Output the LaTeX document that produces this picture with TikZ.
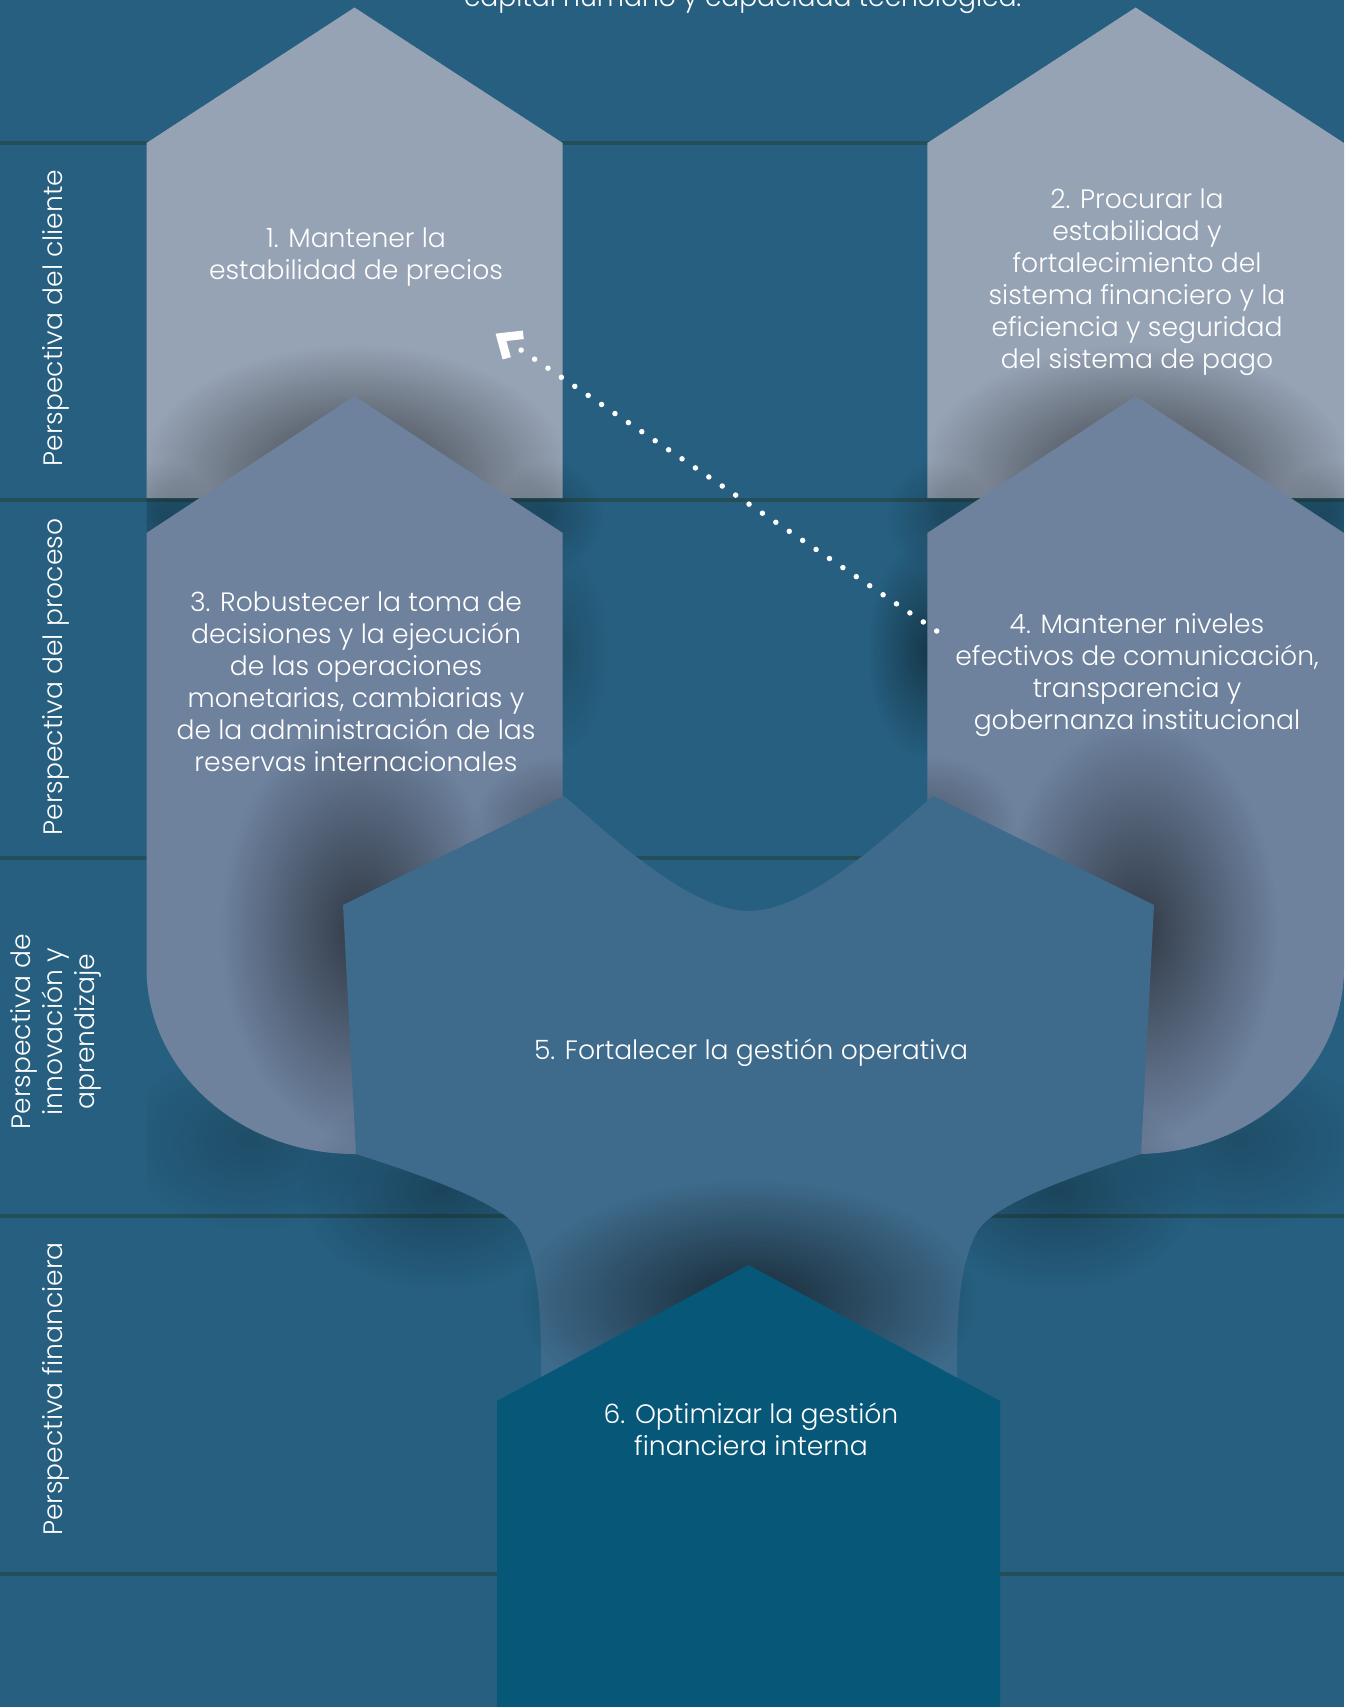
\documentclass[tikz,border=0pt]{standalone}
\usepackage{fontspec}
\IfFontExistsTF{Poppins Light}{\setmainfont{Poppins Light}}{\setmainfont{Poppins}}
\usetikzlibrary{calc,fadings}
\tikzfading[name=shadowfade, inner color=transparent!0, outer color=transparent!100]
\definecolor{bgc}{RGB}{38,95,127}
\definecolor{linec}{RGB}{36,78,88}
\definecolor{lightc}{RGB}{150,163,181}
\definecolor{midc}{RGB}{110,130,158}
\definecolor{fivec}{RGB}{62,107,139}
\definecolor{sixc}{RGB}{7,87,120}
\def\Pone{(146.5,498) -- (146.5,143) -- (354.5,7.5) -- (562.7,143) -- (562.7,498) -- cycle}
\def\Ptwo{(927.3,498) -- (927.3,143) -- (1135.6,7.5) -- (1344,143) -- (1344,498) -- cycle}
\def\Pthree{(146.5,968) -- (146.5,533) -- (354.5,396) -- (562.7,533) -- (562.7,1154) -- (354.5,1154) .. controls (239.6,1154) and (146.5,1070.7) .. cycle}
\def\Pfour{(1344,968) -- (1344,533) -- (1135.6,396) -- (927.3,533) -- (927.3,1154) -- (1135.6,1154) .. controls (1250.5,1154) and (1344,1070.7) .. cycle}
\def\Pfive{(343,905) -- (564,796) .. controls (610,835) and (690,911) .. (749,911) .. controls (808,911) and (888,835) .. (933,796) -- (1154,905) -- (1141,1154) .. controls (1067,1178) and (992,1205) .. (977,1232) .. controls (962,1260) and (957,1300) .. (957,1360) -- (957,1430) -- (541,1430) -- (541,1360) .. controls (541,1300) and (536,1260) .. (521,1232) .. controls (506,1205) and (431,1178) .. (356,1154) -- cycle}
\def\Psix{(497,1707) -- (497,1401) -- (748.5,1265) -- (1000,1401) -- (1000,1707) -- cycle}
\tikzset{
  lbl/.style={text=white, align=center, inner sep=0pt, font=\fontsize{26.6}{32}\selectfont},
  sidelbl/.style={lbl, rotate=90},
  divider/.style={draw=linec, line width=4pt},
  shadowspot/.style={fill=black, path fading=shadowfade, fill opacity=#1},
  dotline/.style={draw=white, line width=5.5pt, line cap=round, dash pattern=on 0pt off 16.18pt},
  barb/.style={draw=white, line width=8.5pt, line join=miter, line cap=butt},
}
\begin{document}
\begin{tikzpicture}[x=1pt, y=-1pt]
\useasboundingbox (0,0) rectangle (1344,1707);
\fill[bgc] (0,0) rectangle (1344,1707);
% dividers
\foreach \yy in {142.6,500,858,1216,1574}{\draw[divider] (0,\yy) -- (1344,\yy);}
% shapes 1 and 2
\fill[lightc] \Pone;
\fill[lightc] \Ptwo;
% shadows cast by shapes 3 and 4
\begin{scope}
  \clip (146.5,0) rectangle (1344,1707);
  \fill[shadowspot=0.6] (354.5,475) ellipse[x radius=215, y radius=130];
  \fill[shadowspot=0.6] (1135.6,475) ellipse[x radius=215, y radius=130];
  \fill[shadowspot=0.22] (161,516) circle[radius=55];
  \fill[shadowspot=0.22] (548,516) circle[radius=55];
  \fill[shadowspot=0.22] (941,516) circle[radius=55];
  \fill[shadowspot=0.22] (1330,516) circle[radius=55];
  \fill[shadowspot=0.4] (927.3,650) ellipse[x radius=60, y radius=110];
  \fill[shadowspot=0.15] (562.7,650) ellipse[x radius=45, y radius=100];
  \fill[shadowspot=0.18] (250,1140) ellipse[x radius=130, y radius=90];
  \fill[shadowspot=0.18] (1240,1140) ellipse[x radius=130, y radius=90];
\end{scope}
\fill[midc] \Pthree;
\fill[midc] \Pfour;
% shadows cast by shape 5
\begin{scope}
  \clip (146.5,0) rectangle (562.7,1707);
  \fill[shadowspot=0.55] (360,930) ellipse[x radius=140, y radius=210];
  \fill[shadowspot=0.3] (562.7,825) ellipse[x radius=90, y radius=70];
\end{scope}
\begin{scope}
  \clip (927.3,0) rectangle (1344,1707);
  \fill[shadowspot=0.55] (1138,930) ellipse[x radius=140, y radius=210];
  \fill[shadowspot=0.3] (927.3,825) ellipse[x radius=90, y radius=70];
\end{scope}
\fill[shadowspot=0.28] (440,1190) ellipse[x radius=140, y radius=100];
\fill[shadowspot=0.28] (1058,1190) ellipse[x radius=140, y radius=100];
\fill[fivec] \Pfive;
% shadow cast by shape 6
\fill[shadowspot=0.6] (748.5,1300) ellipse[x radius=230, y radius=120];
\fill[sixc] \Psix;
% texts
\node[lbl, anchor=base] (t0) at (742.7,6.5) {capital humano y capacidad tecnológica.};
\node[lbl] (t1) at (356,257) {1. Mantener la\\estabilidad de precios};
\node[lbl] (t2) at (1137,282.4) {2. Procurar la\\estabilidad y\\fortalecimiento del\\sistema financiero y la\\eficiencia y seguridad\\del sistema de pago};
\node[lbl] (t3) at (356,682) {3. Robustecer la toma de\\decisiones y la ejecución\\de las operaciones\\monetarias, cambiarias y\\de la administración de las\\reservas internacionales};
\node[lbl] (t4) at (1137,675) {4. Mantener niveles\\efectivos de comunicación,\\transparencia y\\gobernanza institucional};
\node[lbl] (t5) at (751,1052.3) {5. Fortalecer la gestión operativa};
\node[lbl] (t6) at (751,1429) {6. Optimizar la gestión\\financiera interna};
% side labels
\node[sidelbl] (p1) at (56,318) {Perspectiva del cliente};
\node[sidelbl] (p2) at (56,677) {Perspectiva del proceso};
\node[sidelbl] (p3) at (55.5,1031.7) {Perspectiva de\\innovación y\\aprendizaje};
\node[sidelbl] (p4) at (56,1389) {Perspectiva financiera};
% dotted arrow
\coordinate (arrowStart) at (936.7,631);
\coordinate (arrowEnd) at (521,350);
\coordinate (tipC) at (501,337.3);
\draw[dotline] (arrowStart) -- (arrowEnd);
\draw[barb] ($(tipC)+(22.3,-2.5)$) -- (tipC) -- ($(tipC)+(5.7,21)$);
\end{tikzpicture}
\end{document}
